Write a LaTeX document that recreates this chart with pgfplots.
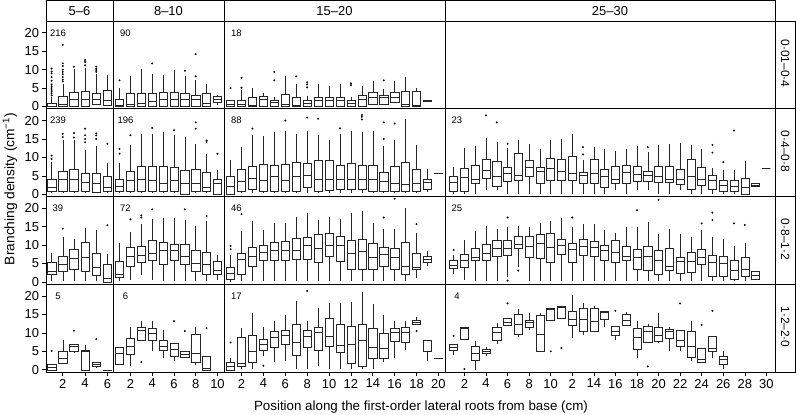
\documentclass[border=0pt]{standalone}
\usepackage{fontspec}
\setmainfont{Liberation Sans}
\usepackage{pgfplots}
\pgfplotsset{compat=1.18}
\usepgfplotslibrary{statistics}

\newcommand\bxp[6]{\addplot[black!85, line width=0.5bp, boxplot prepared={draw position=#1, lower whisker=#2, lower quartile=#3, median=#4, upper quartile=#5, upper whisker=#6}] coordinates {};}
\newcommand\Out[1]{\addplot[only marks, mark=*, mark size=0.75bp, mark options={draw=none, fill=black}] coordinates {#1};}

\pgfplotsset{
  panel/.style={scale only axis, anchor=south west, height=87.75bp, ymin=-0.6, ymax=23.2,
    xtick=\empty, ytick=\empty, axis line style={line width=0.6bp},
    boxplot/draw direction=y, boxplot/box extend=0.75, boxplot/whisker extend=0,
    tick style={line width=0.6bp, black}, major tick length=3.5bp, tick align=outside,
    tick label style={font=\fontsize{13}{15}\selectfont},
    /pgf/number format/assume math mode=true},
  c1/.style={width=67bp, xmin=0.5, xmax=6.5},
  c2/.style={width=111bp, xmin=0.4, xmax=10.6},
  c3/.style={width=221bp, xmin=0.4, xmax=20.6},
  c4/.style={width=330bp, xmin=0.2, xmax=30.8},
  yt/.style={ytick={0,5,10,15,20}, ytick pos=left},
  xt/.style={xtick pos=bottom},
}

\begin{document}
\begin{tikzpicture}
\path[use as bounding box] (0bp,0bp) rectangle (796bp,415bp);

% ================= ROW 1 (0.01-0.4) =================
\begin{axis}[panel, c1, yt, at={(46bp,306.25bp)}]
\bxp{1}{0}{0}{0.1}{1.0}{2.5}
\Out{(1,3)(1,3.5)(1,4)(1,4.5)(1,5)(1,5.5)(1,6)(1,7)(1,8)(1,9)(1,9.5)(1,10.3)}
\bxp{2}{0}{0.1}{0.7}{2.8}{6.2}
\Out{(2,6.8)(2,7.3)(2,8)(2,8.8)(2,9.4)(2,10)(2,11)(2,11.7)(2,16.7)}
\bxp{3}{0}{0}{2.0}{3.9}{10.3}
\Out{(3,10.8)}
\bxp{4}{0}{0}{2.0}{4.1}{10.5}
\Out{(4,11.2)(4,12.1)(4,12.6)}
\bxp{5}{0.3}{0.7}{2.0}{3.7}{8.8}
\Out{(5,9.4)(5,9.9)(5,10.3)(5,10.8)}
\bxp{6}{0.2}{0.3}{1.6}{4.4}{8.5}
\end{axis}

\begin{axis}[panel, c2, at={(113bp,306.25bp)}]
\bxp{1}{0}{0}{0.3}{2.1}{5.1}
\Out{(1,7.1)}
\bxp{2}{0}{0}{0.7}{3.7}{8.2}
\bxp{3}{0}{0}{1.0}{3.7}{10.1}
\bxp{4}{0}{0}{1.5}{3.7}{8.8}
\Out{(4,11.7)}
\bxp{5}{0}{0}{2.0}{4.0}{8.5}
\bxp{6}{0}{0}{2.0}{4.0}{10.0}
\bxp{7}{0}{0}{2.0}{3.7}{8.4}
\Out{(7,9.7)}
\bxp{8}{0}{0}{2.0}{3.0}{7.1}
\Out{(8,8.2)(8,14.2)}
\bxp{9}{0}{0}{1.0}{3.7}{6.2}
\bxp{10}{0.3}{1.2}{2.1}{2.8}{3.2}
\end{axis}

\begin{axis}[panel, c3, at={(224bp,306.25bp)}]
\bxp{1}{0}{0}{0.7}{1.8}{1.8}
\Out{(1,5)}
\bxp{2}{0}{0}{0.7}{1.8}{4.4}
\Out{(2,5.1)(2,7.8)}
\bxp{3}{0}{0}{0.4}{2.6}{5.1}
\bxp{4}{0}{0}{2.0}{2.8}{3.8}
\bxp{5}{0}{0.2}{1.2}{1.8}{2.6}
\Out{(5,7.1)(5,9.4)}
\bxp{6}{0}{0}{0.7}{3.4}{8.3}
\bxp{7}{0}{0}{0.4}{2.6}{6.0}
\Out{(7,8.2)}
\bxp{8}{0}{0}{1.0}{1.8}{2.8}
\Out{(8,5.2)(8,6)(8,6.6)}
\bxp{9}{0}{0.2}{1.6}{2.6}{6.0}
\bxp{10}{0}{0.2}{1.6}{2.6}{5.7}
\bxp{11}{0}{0}{1.6}{2.6}{6.1}
\bxp{12}{0}{0}{1.0}{1.8}{2.6}
\Out{(12,5.8)(12,6.3)}
\bxp{13}{0}{0}{1.9}{3.0}{5.7}
\bxp{14}{0.3}{0.7}{2.4}{3.9}{6.9}
\bxp{15}{0.3}{0.7}{2.4}{3.0}{4.8}
\Out{(15,7.1)}
\bxp{16}{1.2}{1.2}{2.6}{3.9}{6.9}
\bxp{17}{0}{0}{0.5}{4.2}{7.9}
\bxp{18}{0}{0}{0.4}{4.2}{4.9}
\bxp{19}{1.3}{1.3}{1.5}{1.8}{1.8}
\end{axis}

\begin{axis}[panel, c4, at={(445bp,306.25bp)}]
\end{axis}

% ================= ROW 2 (0.4-0.8) =================
\begin{axis}[panel, c1, yt, at={(46bp,218.5bp)}]
\bxp{1}{0.4}{0.9}{2.0}{4.0}{8.7}
\Out{(1,9.6)(1,10.5)}
\bxp{2}{0.3}{0.9}{4.0}{6.3}{14.6}
\Out{(2,15.5)(2,16.4)}
\bxp{3}{0.3}{0.9}{4.0}{6.7}{14.6}
\Out{(3,15.4)(3,16.6)}
\bxp{4}{0.3}{0.9}{3.2}{5.8}{11.9}
\Out{(4,14.1)(4,15)(4,16)(4,17.8)}
\bxp{5}{0.3}{0.6}{2.9}{5.6}{13.2}
\Out{(5,15)(5,16)(5,16.5)}
\bxp{6}{0.3}{0.9}{2.0}{5.0}{8.6}
\Out{(6,13.7)}
\end{axis}

\begin{axis}[panel, c2, at={(113bp,218.5bp)}]
\bxp{1}{0.3}{0.9}{2.2}{4.0}{8.6}
\Out{(1,11)(1,12.3)}
\bxp{2}{0.3}{0.9}{3.8}{6.3}{13.5}
\Out{(2,16)}
\bxp{3}{0.3}{0.9}{4.0}{7.6}{16.4}
\bxp{4}{0.3}{0.9}{3.8}{7.7}{16.4}
\Out{(4,18)}
\bxp{5}{0.3}{0.9}{2.9}{7.7}{16.8}
\bxp{6}{0.3}{0.9}{3.8}{7.2}{16.0}
\Out{(6,17.4)}
\bxp{7}{0}{0}{2.9}{6.5}{15.5}
\bxp{8}{0.3}{0.9}{2.9}{6.7}{13.7}
\Out{(8,17.8)(8,19.5)}
\bxp{9}{0.3}{0.9}{2.0}{6.0}{11.0}
\Out{(9,14.2)(9,14.6)}
\bxp{10}{0}{0}{2.9}{4.2}{6.7}
\Out{(10,11)}
\end{axis}

\begin{axis}[panel, c3, at={(224bp,218.5bp)}]
\bxp{1}{0}{0}{2.2}{5.0}{9.2}
\bxp{2}{0.3}{0.9}{3.5}{6.7}{12.8}
\bxp{3}{0.3}{1.5}{4.4}{7.6}{16.0}
\bxp{4}{0.3}{0.9}{3.8}{8.1}{15.7}
\bxp{5}{0.3}{0.9}{4.9}{7.8}{16.8}
\bxp{6}{0.3}{0.9}{3.8}{8.1}{17.3}
\bxp{7}{0.3}{0.9}{4.9}{8.7}{16.4}
\bxp{8}{0.3}{2.0}{5.1}{8.5}{17.3}
\bxp{9}{0.3}{0.9}{4.0}{9.1}{16.2}
\bxp{10}{0.3}{1.1}{4.2}{9.1}{14.6}
\bxp{11}{0.3}{1.5}{4.0}{7.8}{16.4}
\bxp{12}{0.3}{1.5}{4.0}{8.3}{17.3}
\bxp{13}{0.3}{1.5}{4.2}{7.8}{16.8}
\bxp{14}{0.3}{0.9}{4.0}{7.8}{17.3}
\bxp{15}{0.3}{0.9}{3.6}{6.0}{13.2}
\bxp{16}{0.3}{0.9}{2.9}{7.6}{14.8}
\bxp{17}{0.3}{0.9}{2.7}{8.7}{20.5}
\bxp{18}{0.3}{0.9}{2.9}{6.9}{13.5}
\bxp{19}{0.6}{1.3}{3.3}{4.2}{6.9}
\bxp{20}{5.8}{5.8}{5.8}{5.8}{5.8}
\Out{(3,17.8)(6,20)(8,20.8)(9,20.5)(11,17.9)(13,20.3)(13,21)(13,21.5)(15,15)(15,19.5)(16,19.2)}
\end{axis}

\begin{axis}[panel, c4, at={(445bp,218.5bp)}]
\bxp{1}{0.2}{0.8}{3.2}{5.0}{7.4}
\bxp{2}{0.2}{0.8}{4.7}{7.1}{12.5}
\bxp{3}{0.2}{2.9}{4.1}{7.8}{13.1}
\bxp{4}{1.1}{4.4}{6.5}{9.5}{15.3}
\bxp{5}{1.1}{2.2}{4.9}{9.0}{14.3}
\bxp{6}{0.2}{3.5}{5.6}{7.4}{12.5}
\bxp{7}{0.2}{3.8}{5.1}{11.0}{14.6}
\bxp{8}{0.2}{4.9}{7.4}{9.2}{13.7}
\bxp{9}{0.2}{2.9}{6.2}{7.4}{12.3}
\bxp{10}{0.2}{3.8}{7.1}{9.9}{14.8}
\bxp{11}{0.2}{3.8}{6.2}{9.5}{15.0}
\bxp{12}{0.2}{3.8}{5.8}{10.3}{16.4}
\bxp{13}{0.2}{2.9}{5.1}{6.0}{9.2}
\bxp{14}{0.2}{2.9}{5.6}{9.5}{12.8}
\bxp{15}{0.2}{1.8}{4.9}{6.7}{12.2}
\bxp{16}{1.1}{2.9}{4.2}{7.6}{11.7}
\bxp{17}{0.2}{2.9}{6.0}{7.8}{12.2}
\bxp{18}{1.1}{3.5}{5.3}{7.7}{13.1}
\bxp{19}{1.1}{3.5}{5.1}{6.3}{11.4}
\bxp{20}{0.2}{3.2}{4.9}{7.7}{13.5}
\bxp{21}{0.2}{3.2}{4.1}{7.7}{13.7}
\bxp{22}{1.1}{2.6}{4.2}{6.7}{13.9}
\bxp{23}{0.2}{1.5}{4.9}{9.6}{13.4}
\bxp{24}{0.2}{2.4}{4.2}{7.4}{12.3}
\bxp{25}{0.2}{1.3}{3.8}{5.1}{7.1}
\bxp{26}{0.2}{0.8}{2.4}{3.8}{6.5}
\bxp{27}{0.2}{0.8}{2.2}{3.8}{6.5}
\bxp{28}{0}{0}{2.0}{4.4}{8.9}
\bxp{29}{2.2}{2.2}{2.5}{2.9}{2.9}
\bxp{30}{7.1}{7.1}{7.1}{7.1}{7.1}
\Out{(4,21.4)(5,19.5)(6,13.7)(13,10.8)(13,12.8)(19,12.8)(25,11.3)(25,13.4)(26,8.7)(27,17.3)}
\end{axis}

% ================= ROW 3 (0.8-1.2) =================
\begin{axis}[panel, c1, yt, at={(46bp,130.75bp)}]
\bxp{1}{0.3}{2.0}{3.0}{5.3}{8.0}
\bxp{2}{0.3}{3.0}{4.8}{6.9}{12.3}
\Out{(2,14.5)}
\bxp{3}{0.3}{3.5}{6.5}{8.9}{11.8}
\bxp{4}{0.3}{3.0}{6.8}{10.7}{14.7}
\bxp{5}{0.3}{1.8}{3.9}{7.8}{14.1}
\bxp{6}{0}{0}{1.0}{4.8}{7.6}
\Out{(6,15.4)}
\end{axis}

\begin{axis}[panel, c2, at={(113bp,130.75bp)}]
\bxp{1}{0.3}{1.3}{2.2}{5.6}{10.7}
\bxp{2}{0.5}{4.2}{7.1}{9.4}{13.6}
\bxp{3}{1.8}{5.3}{7.3}{9.6}{15.7}
\bxp{4}{0.5}{6.0}{7.7}{11.2}{17.2}
\bxp{5}{0.3}{4.9}{8.5}{10.9}{17.5}
\bxp{6}{0.3}{5.8}{8.5}{10.3}{17.5}
\bxp{7}{0.3}{4.9}{7.1}{10.3}{16.8}
\bxp{8}{0.3}{2.9}{5.0}{8.7}{15.2}
\bxp{9}{0.3}{2.2}{4.9}{8.2}{16.6}
\bxp{10}{0.5}{2.0}{3.2}{5.6}{7.3}
\Out{(2,17)(3,17.5)(3,18.1)(4,19.7)(7,19.7)(9,17.9)}
\end{axis}

\begin{axis}[panel, c3, at={(224bp,130.75bp)}]
\bxp{1}{0}{0.8}{2.4}{4.1}{7.3}
\bxp{2}{0.3}{2.2}{6.2}{7.7}{13.9}
\bxp{3}{0.3}{4.2}{6.9}{9.5}{16.6}
\bxp{4}{0.3}{5.9}{8.0}{10.1}{14.1}
\bxp{5}{0.3}{5.9}{8.6}{10.7}{16.1}
\bxp{6}{0.3}{5.9}{8.7}{11.0}{16.1}
\bxp{7}{0.3}{6.2}{8.7}{11.9}{17.7}
\bxp{8}{0.3}{6.2}{10.0}{12.1}{18.8}
\bxp{9}{0.3}{5.5}{9.2}{13.0}{16.8}
\bxp{10}{0.3}{7.1}{10.0}{13.2}{17.7}
\bxp{11}{0.3}{5.6}{10.0}{12.5}{17.0}
\bxp{12}{0.3}{3.5}{7.8}{11.2}{18.8}
\bxp{13}{0.3}{3.5}{8.3}{11.6}{19.3}
\bxp{14}{0.3}{3.5}{6.8}{10.5}{15.9}
\bxp{15}{0.3}{4.4}{7.6}{9.5}{14.3}
\bxp{16}{0.3}{3.5}{6.8}{9.1}{14.3}
\bxp{17}{0.3}{2.2}{4.4}{10.7}{20.2}
\bxp{18}{1.0}{3.5}{4.1}{7.7}{13.4}
\bxp{19}{4.4}{5.3}{6.2}{7.1}{8.5}
\Out{(1,8.9)(1,9.8)(2,18.4)(15,17.5)(16,22.6)(18,15.7)}
\end{axis}

\begin{axis}[panel, c4, at={(445bp,130.75bp)}]
\bxp{1}{2.2}{3.8}{4.6}{5.8}{7.2}
\bxp{2}{0.5}{4.0}{6.0}{7.5}{11.5}
\bxp{3}{0.3}{5.8}{6.7}{9.1}{13.9}
\bxp{4}{0.3}{5.8}{7.7}{10.3}{15.2}
\bxp{5}{0.3}{7.1}{9.1}{11.2}{14.3}
\bxp{6}{1.5}{7.3}{9.1}{11.2}{14.8}
\bxp{7}{4.0}{9.1}{10.2}{12.5}{15.2}
\bxp{8}{0.3}{6.6}{9.8}{12.3}{14.9}
\bxp{9}{0.3}{6.4}{10.5}{13.0}{16.0}
\bxp{10}{0.3}{5.3}{9.4}{13.2}{16.5}
\bxp{11}{0.3}{7.6}{10.1}{11.7}{17.5}
\bxp{12}{0.3}{5.4}{9.0}{10.6}{15.0}
\bxp{13}{0.3}{7.3}{9.8}{11.7}{15.7}
\bxp{14}{0.3}{7.0}{9.5}{11.0}{15.7}
\bxp{15}{0.3}{5.8}{8.5}{10.0}{14.1}
\bxp{16}{0.3}{5.3}{8.2}{11.2}{13.4}
\bxp{17}{0.3}{6.0}{7.1}{9.7}{14.8}
\bxp{18}{0.3}{3.6}{6.6}{9.0}{14.8}
\bxp{19}{0.3}{3.3}{7.1}{9.8}{16.3}
\bxp{20}{0.3}{2.1}{6.0}{8.5}{13.0}
\bxp{21}{0.3}{3.3}{4.4}{9.1}{14.3}
\bxp{22}{0.3}{2.3}{5.6}{6.8}{13.0}
\bxp{23}{0.3}{2.6}{5.6}{8.0}{12.1}
\bxp{24}{0.3}{4.9}{6.6}{9.0}{14.1}
\bxp{25}{0.3}{1.5}{5.3}{7.3}{12.3}
\bxp{26}{0.3}{1.5}{5.0}{7.0}{11.6}
\bxp{27}{0.3}{0.8}{3.2}{5.8}{9.8}
\bxp{28}{0.3}{1.7}{3.5}{6.8}{10.5}
\bxp{29}{0.5}{0.8}{1.8}{2.8}{3.1}
\Out{(1,8.7)(6,0.4)(6,17.5)(7,3.1)(12,17.5)(18,19.5)(20,22.3)(24,15.9)(25,16.8)(25,18.8)(27,15.9)(28,15.5)}
\end{axis}

% ================= ROW 4 (1.2-2.0) =================
\begin{axis}[panel, c1, yt, xt, xtick={2,4,6}, at={(46bp,43bp)}]
\bxp{1}{0}{0}{0.7}{1.6}{1.6}
\bxp{2}{1.8}{1.8}{3.2}{5.0}{8.1}
\bxp{3}{4.5}{5.0}{6.5}{6.9}{6.9}
\bxp{4}{0}{0}{5.1}{5.4}{6.8}
\bxp{5}{0.5}{0.9}{1.4}{2.0}{2.0}
\bxp{6}{0}{0}{0}{0}{0}
\Out{(1,5.1)(3,10.6)(5,8.3)}
\end{axis}

\begin{axis}[panel, c2, xt, xtick={2,4,6,8,10}, at={(113bp,43bp)}]
\bxp{1}{1.4}{1.4}{4.5}{6.1}{6.1}
\bxp{2}{0.9}{4.1}{6.3}{8.6}{11.7}
\bxp{3}{7.7}{8.1}{10.8}{11.5}{13.1}
\bxp{4}{5.0}{8.1}{9.9}{11.3}{13.1}
\bxp{5}{3.2}{5.4}{6.3}{8.1}{10.8}
\bxp{6}{2.3}{3.6}{5.7}{7.2}{7.2}
\bxp{7}{3.4}{3.4}{4.3}{5.1}{5.1}
\bxp{8}{1.4}{2.0}{4.5}{9.7}{11.7}
\bxp{9}{0}{0}{0.5}{3.6}{3.6}
\Out{(3,2.1)(6,13.2)(7,10.5)(9,11.3)}
\end{axis}

\begin{axis}[panel, c3, xt, xtick={2,4,...,20}, at={(224bp,43bp)}]
\bxp{1}{0}{0}{0.9}{2.1}{3.2}
\bxp{2}{0.2}{0.9}{1.8}{8.7}{11.3}
\bxp{3}{0.2}{2.1}{5.0}{9.3}{15.3}
\bxp{4}{3.8}{5.4}{6.8}{8.3}{11.5}
\bxp{5}{2.0}{6.0}{8.7}{10.5}{13.1}
\bxp{6}{2.3}{7.0}{9.5}{10.6}{14.9}
\bxp{7}{0.2}{3.9}{7.5}{12.3}{18.6}
\bxp{8}{0.2}{6.1}{9.0}{10.6}{13.1}
\bxp{9}{0.9}{5.2}{10.1}{11.5}{16.7}
\bxp{10}{0.2}{6.5}{9.2}{14.0}{18.0}
\bxp{11}{0.2}{4.8}{6.6}{12.3}{18.0}
\bxp{12}{0.2}{1.8}{7.0}{11.9}{18.3}
\bxp{13}{0.2}{0.9}{8.1}{12.3}{21.2}
\bxp{14}{0.2}{3.0}{6.1}{11.3}{17.8}
\bxp{15}{2.0}{3.0}{5.9}{9.9}{14.9}
\bxp{16}{3.2}{7.8}{10.1}{11.3}{13.2}
\bxp{17}{5.4}{7.5}{10.1}{11.5}{13.2}
\bxp{18}{12.4}{12.4}{13.0}{13.5}{14.4}
\bxp{19}{2.3}{5.1}{7.9}{8.1}{8.1}
\bxp{20}{3.0}{3.0}{3.0}{3.0}{3.0}
\Out{(1,7.4)(4,1.1)(8,21.4)(18,10.5)}
\end{axis}

\begin{axis}[panel, c4, xt, xtick={2,4,...,30}, xticklabels={2,4,6,8,10,2,14,16,18,20,22,24,26,28,30}, at={(445bp,43bp)}]
\bxp{1}{4.1}{5.4}{6.1}{7.0}{7.0}
\bxp{2}{8.3}{8.3}{11.3}{11.5}{11.5}
\bxp{3}{0}{2.5}{4.5}{6.3}{7.7}
\bxp{4}{3.8}{4.5}{5.1}{5.7}{6.3}
\bxp{5}{7.0}{8.1}{10.1}{11.5}{12.6}
\bxp{6}{12.0}{12.0}{12.9}{14.0}{14.0}
\bxp{7}{9.0}{9.7}{12.4}{15.0}{16.4}
\bxp{8}{10.8}{11.5}{12.8}{13.5}{15.5}
\bxp{9}{5.0}{5.0}{9.6}{14.7}{15.5}
\bxp{10}{13.5}{13.5}{16.4}{16.7}{16.7}
\bxp{11}{14.1}{14.1}{16.9}{17.3}{17.3}
\bxp{12}{8.7}{12.2}{13.7}{15.8}{20.3}
\bxp{13}{9.5}{10.4}{13.7}{16.8}{18.2}
\bxp{14}{10.4}{10.4}{13.2}{16.7}{17.4}
\bxp{15}{11.7}{13.8}{15.5}{16.0}{16.0}
\bxp{16}{8.1}{9.5}{10.5}{11.7}{11.7}
\bxp{17}{12.2}{12.2}{13.5}{15.1}{15.8}
\bxp{18}{3.2}{5.7}{8.7}{11.3}{13.1}
\bxp{19}{7.5}{7.5}{10.5}{11.9}{12.4}
\bxp{20}{7.2}{7.8}{9.5}{11.5}{15.5}
\bxp{21}{5.1}{8.6}{10.5}{11.1}{11.5}
\bxp{22}{5.0}{6.5}{7.9}{10.6}{10.6}
\bxp{23}{2.3}{3.4}{6.5}{10.4}{13.3}
\bxp{24}{2.0}{2.0}{2.9}{5.9}{5.9}
\bxp{25}{3.2}{5.0}{5.9}{9.0}{9.0}
\bxp{26}{0.2}{1.4}{2.9}{3.8}{5.0}
\Out{(1,9.2)(2,0.2)(6,18)(10,5.0)(11,5.9)(16,16)(19,0.9)(22,18)(24,12.2)(25,16)}
\end{axis}

\begin{scope}[x=1bp, y=1bp]
% ================= strips =================
\begin{scope}[line width=0.6bp]
\draw (46,394) rectangle (113,414.6);
\draw (113,394) rectangle (224,414.6);
\draw (224,394) rectangle (445,414.6);
\draw (445,394) rectangle (775,414.6);
\draw (775,306.25) rectangle (795.6,394);
\draw (775,218.5) rectangle (795.6,306.25);
\draw (775,130.75) rectangle (795.6,218.5);
\draw (775,43) rectangle (795.6,130.75);
\end{scope}
\begin{scope}[every node/.style={font=\fontsize{13}{15}\selectfont, inner sep=0pt}]
\node at (79.5,404.3) {5–6};
\node at (168.5,404.3) {8–10};
\node at (334.5,404.3) {15–20};
\node at (610,404.3) {25–30};
\end{scope}
\begin{scope}[every node/.style={font=\fontsize{12}{14}\selectfont, inner sep=0pt, rotate=-90}]
\node at (785.3,351.5) {0·01–0·4};
\node at (785.3,263.5) {0·4–0·8};
\node at (785.3,175.5) {0·8–1·2};
\node at (785.3,88) {1·2–2·0};
\end{scope}

% ================= counts =================
\begin{scope}[every node/.style={font=\fontsize{9.5}{11}\selectfont, inner sep=0pt}]
\node at (58,382.2) {216};
\node at (125.5,382.2) {90};
\node at (236.5,382.2) {18};
\node at (58,294.5) {239};
\node at (125.5,294.5) {196};
\node at (236.5,294.5) {88};
\node at (457,294.5) {23};
\node at (58,206.7) {39};
\node at (125.5,206.7) {72};
\node at (236.5,206.7) {46};
\node at (457,206.7) {25};
\node at (58,119) {5};
\node at (125.5,119) {6};
\node at (236.5,119) {17};
\node at (457,119) {4};
\end{scope}

% ================= axis titles =================
\node[font=\fontsize{13.4}{15}\selectfont, inner sep=0pt] at (421,8) {Position along the first-order lateral roots from base (cm)};
\node[font=\fontsize{13.8}{15}\selectfont, inner sep=0pt, rotate=90] at (10,226) {Branching density (cm\textsuperscript{−1})};
\end{scope}
\end{tikzpicture}
\end{document}
